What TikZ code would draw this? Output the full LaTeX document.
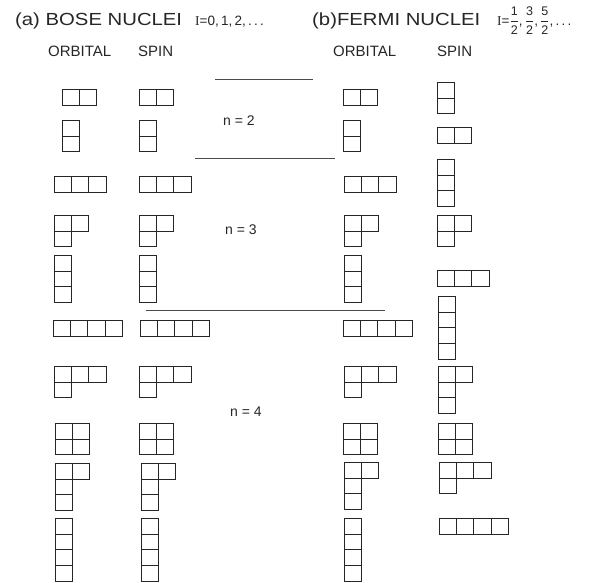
\documentclass[tikz,border=0pt]{standalone}
\usepackage{fontspec}
\setmainfont{Liberation Sans}
\newfontfamily\titlefont[FakeStretch=1.16]{Liberation Sans}
\newfontfamily\serifI{Liberation Serif}
\usepackage{tikz}
\usetikzlibrary{positioning}
\definecolor{ink} {HTML}{262626}
\definecolor{rule}{HTML}{4A4A4A}
\def\cellw{17.3}
\def\cellh{15.9}
\newcommand\spinfrac[1]{$\displaystyle
  \frac{\mbox{\fontsize{12.5}{13}\selectfont #1}}{\mbox{\fontsize{12.5}{13}\selectfont 2}}$}
\tikzset{
  cell/.style    = {draw=ink, line width=0.75pt},
  young/.pic     = {
    \foreach \len [count=\r] in {#1}
      \foreach \c in {1,...,\len}
        \draw[cell] ({(\c-1)*\cellw},{(\r-1)*\cellh}) rectangle ++(\cellw,\cellh);
  },
  sep/.style     = {draw=rule, line width=0.6pt},
  title/.style   = {font=\titlefont\fontsize{17.5}{19}\selectfont, text=ink, inner sep=0pt},
  spinval/.style = {font=\fontsize{13.5}{15}\selectfont, text=ink, inner sep=0pt},
  colhd/.style   = {font=\fontsize{15}{17}\selectfont, text=ink, inner sep=0pt, anchor=base west},
  shell/.style   = {font=\fontsize{14}{16}\selectfont, text=ink},
}

\begin{document}
\begin{tikzpicture}[x=1pt, y=-1pt]
  \useasboundingbox (0,0) rectangle (596,582);

  \node[title, anchor=base west] (bose) at (15,25) {(a) BOSE NUCLEI};
  \node[spinval, anchor=base west] (boseI) at (195,25) {{\serifI I}=0,\,1,\,2,\,.\,.\,.};
  \node[title, anchor=base west] (fermi) at (312,25) {(b)FERMI NUCLEI};
  \node[spinval, anchor=base west] (fermiI) at (497,25)
    {{\serifI I}=\spinfrac1,\,\spinfrac3,\,\spinfrac5,\,.\,.\,.};

  \node[colhd] (orbA)  at (48,56)  {ORBITAL};
  \node[colhd] (spinA) at (138,56) {SPIN};
  \node[colhd] (orbB)  at (333,56) {ORBITAL};
  \node[colhd] (spinB) at (437,56) {SPIN};

  % shells
  \node[shell] (n2) at (239,121) {n = 2};
  \node[shell] (n3) at (241,230) {n = 3};
  \node[shell] (n4) at (246,412) {n = 4};
  \draw[sep] (215,79)  -- (313,79);
  \draw[sep] (195,158) -- (335,158);
  \draw[sep] (146,310) -- (385,310);

  % (a) orbital
  \pic at (62,89)  {young={2}};
  \pic at (62,120) {young={1,1}};
  \pic at (54,176) {young={3}};
  \pic at (54,215) {young={2,1}};
  \pic at (54,255) {young={1,1,1}};
  \pic at (53,320) {young={4}};
  \pic at (54,366) {young={3,1}};
  \pic at (55,423) {young={2,2}};
  \pic at (55,463) {young={2,1,1}};
  \pic at (55,518) {young={1,1,1,1}};

  % (a) spin
  \pic at (139,89)  {young={2}};
  \pic at (139,120) {young={1,1}};
  \pic at (139,176) {young={3}};
  \pic at (139,215) {young={2,1}};
  \pic at (139,255) {young={1,1,1}};
  \pic at (140,320) {young={4}};
  \pic at (139,366) {young={3,1}};
  \pic at (139,423) {young={2,2}};
  \pic at (141,463) {young={2,1,1}};
  \pic at (141,518) {young={1,1,1,1}};

  % (b) orbital
  \pic at (343,89)  {young={2}};
  \pic at (343,120) {young={1,1}};
  \pic at (344,176) {young={3}};
  \pic at (344,215) {young={2,1}};
  \pic at (344,255) {young={1,1,1}};
  \pic at (343,320) {young={4}};
  \pic at (344,366) {young={3,1}};
  \pic at (343,423) {young={2,2}};
  \pic at (344,462) {young={2,1,1}};
  \pic at (344,518) {young={1,1,1,1}};

  % (b) spin
  \pic at (437,82)  {young={1,1}};
  \pic at (437,127) {young={2}};
  \pic at (437,159) {young={1,1,1}};
  \pic at (437,215) {young={2,1}};
  \pic at (437,270) {young={3}};
  \pic at (438,296) {young={1,1,1,1}};
  \pic at (438,366) {young={2,1,1}};
  \pic at (438,423) {young={2,2}};
  \pic at (439,462) {young={3,1}};
  \pic at (439,518) {young={4}};

\end{tikzpicture}
\end{document}
